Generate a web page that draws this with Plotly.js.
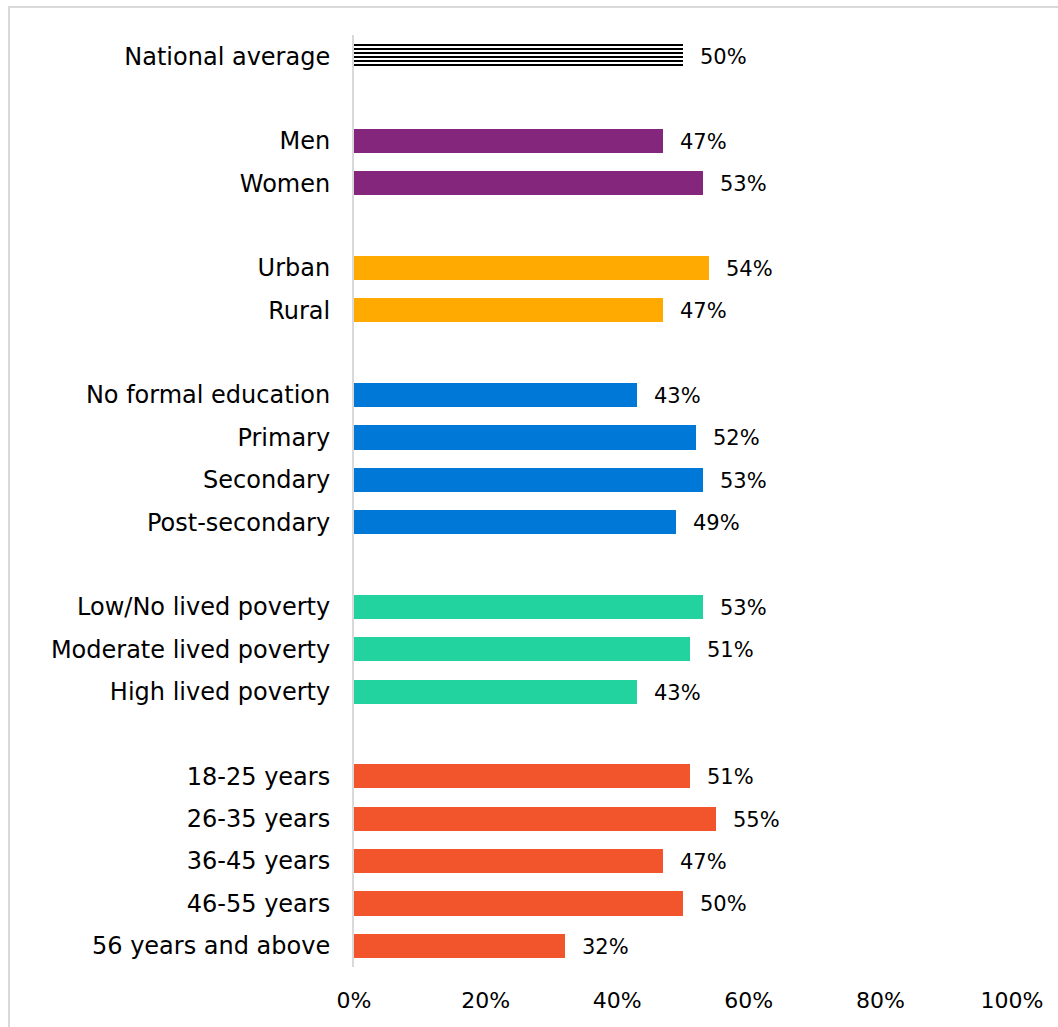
<!DOCTYPE html>
<html>
<head>
<meta charset="utf-8">
<script src="https://cdn.plot.ly/plotly-3.0.1.min.js"></script>
<style>
  html, body { margin: 0; padding: 0; background: #fff; overflow: hidden; }
  #chart { width: 1058px; height: 1027px; }
  #frame { position: absolute; left: 8px; top: 6px; width: 1100px; height: 1100px;
           border: 2px solid #d9d9d9; pointer-events: none; }
</style>
</head>
<body>
<div id="chart"></div>
<div id="frame"></div>
<script>
// ---- data ----
const labels = [
  "National average",
  "Men", "Women",
  "Urban", "Rural",
  "No formal education", "Primary", "Secondary", "Post-secondary",
  "Low/No lived poverty", "Moderate lived poverty", "High lived poverty",
  "18-25 years", "26-35 years", "36-45 years", "46-55 years", "56 years and above"
];
const values = [50, 47, 53, 54, 47, 43, 52, 53, 49, 53, 51, 43, 51, 55, 47, 50, 32];
const groups = ["national", "gender", "gender", "location", "location",
  "education", "education", "education", "education",
  "poverty", "poverty", "poverty",
  "age", "age", "age", "age", "age"];
const groupColors = {
  national: "#ffffff",
  gender: "#84277C",
  location: "#FFAA00",
  education: "#0078D7",
  poverty: "#22D3A0",
  age: "#F2552B"
};
const xTickVals = [0, 20, 40, 60, 80, 100];
const xTickText = ["0%", "20%", "40%", "60%", "80%", "100%"];

// ---- positions: leave one empty slot between groups ----
const pos = [];
let p = 0;
for (let i = 0; i < labels.length; i++) {
  if (i > 0 && groups[i] !== groups[i - 1]) p += 1;
  pos.push(p);
  p += 1;
}
const lastPos = pos[pos.length - 1];

const FONT = "'Century Gothic', 'DejaVu Sans', sans-serif";

const natIdx = [0];
const restIdx = labels.map((_, i) => i).filter(i => i !== 0);

const traces = [
  {
    type: "bar", orientation: "h",
    x: natIdx.map(i => values[i]), y: natIdx.map(i => pos[i]),
    width: 0.57,
    marker: {
      color: "#ffffff",
      pattern: { shape: "-", fgcolor: "#000000", bgcolor: "#ffffff", size: 4, solidity: 0.5 },
      line: { width: 0 }
    },
    hoverinfo: "skip"
  },
  {
    type: "bar", orientation: "h",
    x: restIdx.map(i => values[i]), y: restIdx.map(i => pos[i]),
    width: 0.57,
    marker: { color: restIdx.map(i => groupColors[groups[i]]), line: { width: 0 } },
    hoverinfo: "skip"
  }
];

const annotations = labels.map((l, i) => ({
  x: values[i], y: pos[i], xref: "x", yref: "y",
  text: values[i] + "%", showarrow: false,
  xanchor: "left", yanchor: "middle", xshift: 15, yshift: -1,
  font: { family: FONT, size: 21, color: "#000000" }
}));

const layout = {
  width: 1058, height: 1027,
  margin: { l: 354, r: 46, t: 35, b: 60, pad: 0 },
  paper_bgcolor: "#ffffff", plot_bgcolor: "#ffffff",
  showlegend: false,
  bargap: 0,
  font: { family: FONT, color: "#000000" },
  xaxis: {
    range: [0, 100], tickvals: xTickVals, ticktext: xTickText,
    showgrid: false, zeroline: false, showline: false, ticks: "",
    ticklabelstandoff: 18,
    tickfont: { family: FONT, size: 22, color: "#000000" },
    fixedrange: true
  },
  yaxis: {
    range: [lastPos + 0.5, -0.5],
    tickvals: pos, ticktext: labels,
    showgrid: false, zeroline: false,
    showline: true, linecolor: "#d9d9d9", linewidth: 2,
    ticks: "", ticklabelstandoff: 17,
    tickfont: { family: FONT, size: 24, color: "#000000" },
    fixedrange: true
  },
  annotations: annotations
};

Plotly.newPlot("chart", traces, layout, { displayModeBar: false, staticPlot: true });
</script>
</body>
</html>
